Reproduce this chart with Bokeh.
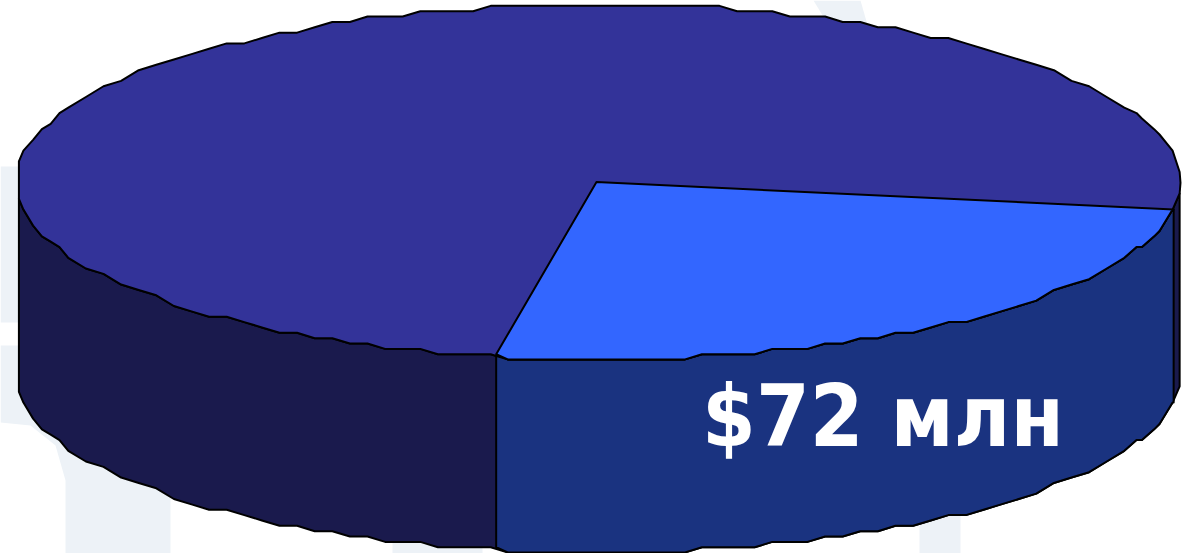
import numpy as np
from bokeh.core.properties import value
from bokeh.embed import file_html
from bokeh.models import Range1d
from bokeh.plotting import figure
from bokeh.resources import INLINE

# Data (the second value is an estimate from the slice's angle)
slice_names = ["Выделенный сектор", "Остальное"]
slice_values = [72, 212]
slice_label = "$72 млн"

# Layout of the pseudo-3D pie, in picture pixels
CX, CY, RX, RY, DEPTH = 597.5, 181.5, 582.5, 177.5, 193.0
START_DEG = 8.8   # angle where the highlighted slice begins (clockwise on screen)
X_STEP = 17.6     # the source outline has one vertex per this many pixels across
Y_GRID = 5.36     # and snaps its heights to this grid
SIDE_DEG = 6.2    # half-height of the straight piece at each extreme

share = slice_values[0] / sum(slice_values)
END_DEG = START_DEG + 360.0 * share

# Vertex angles of the outline, uniform across x, with extra vertices near both sides
xs = np.arange(CX - RX + X_STEP, CX + RX - X_STEP / 2, X_STEP)
extra = X_STEP * np.array([0.45, 1.5, 2.5])
xs = np.r_[xs, CX - RX + extra, CX + RX - extra]
lower = np.degrees(np.arccos((xs - CX) / RX))
angles = np.sort(np.r_[lower, 360 - lower, SIDE_DEG / 2, 360 - SIDE_DEG / 2,
                       180 - SIDE_DEG, 180 + SIDE_DEG])


def rim(t0, t1):
    inner = angles[(angles > t0 + 0.5) & (angles < t1 - 0.5)]
    t = np.radians(np.r_[t0, inner, t1])
    x = CX + RX * np.cos(t)
    y = CY + RY * np.sin(t)
    return x, np.round(y / Y_GRID) * Y_GRID


def wall(t0, t1):
    x, y = rim(t0, t1)
    return np.r_[x, x[::-1]], np.r_[y, y[::-1] + DEPTH]


p = figure(width=1188, height=553, output_backend="svg", toolbar_location=None,
           x_range=Range1d(0, 1188), y_range=Range1d(553, 0),
           min_border=0, outline_line_color=None, background_fill_color="white")
p.axis.visible = False
p.grid.visible = False

# Pale background shapes, mostly hidden by the pie
bg_x = [[0, 22, 22, 0],
        [0, 170, 170, 65, 65, 55, 30, 0],
        [392, 482, 482, 392], [919, 960, 960, 919], [813, 860, 868, 830]]
bg_y = [[166, 166, 322, 322],
        [345, 345, 553, 553, 480, 445, 425, 422],
        [535, 535, 553, 553], [505, 505, 553, 553], [0, 0, 28, 28]]
p.patches(bg_x, bg_y, fill_color="#edf2f7", line_color=None)

OUT = dict(line_color="black", line_width=2, line_join="round")

# Side walls
x, y = wall(SIDE_DEG / 2, 180 - SIDE_DEG)
p.patch(x, y, fill_color="#1a1a4d", **OUT)
x, y = wall(START_DEG, END_DEG)
p.patch(x, y, fill_color="#1a3380", **OUT)

# Top face
x, y = rim(0, 360)
p.patch(x[:-1], y[:-1], fill_color="#333399", **OUT)
x, y = rim(START_DEG, END_DEG)
p.patch(np.r_[CX - 1.5, x], np.r_[CY, y], fill_color="#3366ff", **OUT)

p.text(x=[882.5], y=[415], text=[slice_label], text_color="white",
       text_font=value("DejaVu Sans Condensed"), text_font_style="bold",
       text_font_size="86px", text_align="center", text_baseline="alphabetic")

open("out.html", "w").write(file_html(p, INLINE))
